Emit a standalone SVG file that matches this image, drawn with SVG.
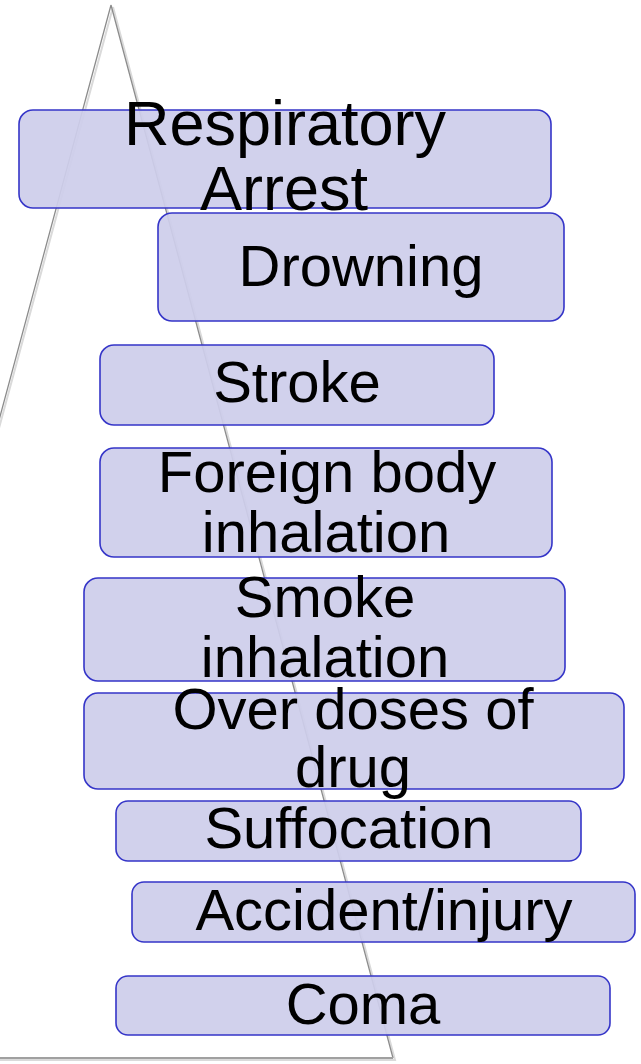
<svg xmlns="http://www.w3.org/2000/svg" width="641" height="1064" viewBox="0 0 641 1064">
<style>
.box{fill:rgb(206,206,235);fill-opacity:0.93;stroke:#3535c8;stroke-width:1.6}
.t{font-family:"Liberation Sans",Arial,sans-serif;font-size:58px;fill:#000;text-anchor:middle}
.big{font-size:63px}
.tri{fill:none;stroke:#8c8c8c;stroke-width:1.3}
.sh{fill:none;stroke:#dadada;stroke-width:2}
</style>
<rect width="641" height="1064" fill="#fff"/>
<g id="pyramid">
<path class="sh" d="M113,7 L-172,1060 M113,7 L395,1060 L-172,1060"/>
<path class="tri" d="M111,5 L-173,1058 M111,5 L393,1058"/>
<line x1="0" y1="1058" x2="393" y2="1058" stroke="#a0a0a0" stroke-width="2.2"/>
</g>
<g id="n1"><rect class="box" x="19" y="110" width="532" height="98" rx="14"/><text class="t big" x="285" y="145">Respiratory</text><text class="t big" x="284" y="210">Arrest</text></g>
<g id="n2"><rect class="box" x="158" y="213" width="406" height="108" rx="14"/><text class="t" x="361" y="286">Drowning</text></g>
<g id="n3"><rect class="box" x="100" y="345" width="394" height="80" rx="14"/><text class="t" x="297" y="402">Stroke</text></g>
<g id="n4"><rect class="box" x="100" y="448" width="452" height="109" rx="14"/><text class="t" x="327" y="492">Foreign body</text><text class="t" x="326" y="552">inhalation</text></g>
<g id="n5"><rect class="box" x="84" y="578" width="481" height="103" rx="14"/><text class="t" x="325" y="617">Smoke</text><text class="t" x="325" y="677">inhalation</text></g>
<g id="n6"><rect class="box" x="84" y="693" width="540" height="96" rx="14"/><text class="t" x="353" y="729">Over doses of</text><text class="t" x="353" y="787">drug</text></g>
<g id="n7"><rect class="box" x="116" y="801" width="465" height="60" rx="12"/><text class="t" x="349" y="848">Suffocation</text></g>
<g id="n8"><rect class="box" x="132" y="882" width="503" height="60" rx="12"/><text class="t" x="384" y="930">Accident/injury</text></g>
<g id="n9"><rect class="box" x="116" y="976" width="494" height="59" rx="12"/><text class="t" x="363" y="1024">Coma</text></g>
<g id="connectors"></g>
</svg>
